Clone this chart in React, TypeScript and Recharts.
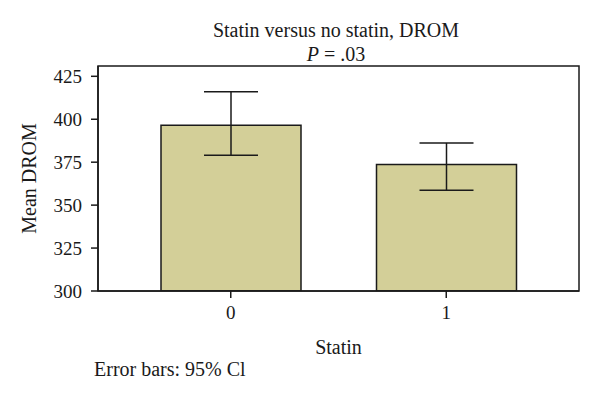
import { BarChart, Bar, XAxis, YAxis, ErrorBar } from 'recharts';

// groups and values
const statin = ['0', '1'];
const meanDrom = [396.5, 373.7];
const ciLow = [379, 358.7];
const ciHigh = [416, 386.2];
const yTicks = [300, 325, 350, 375, 400, 425];

const FONT = '"Liberation Serif", "DejaVu Serif", serif';
const INK = '#1a1a1a';

const data = statin.map((s, i) => ({
  statin: s,
  mean: meanDrom[i],
  ci: [meanDrom[i] - ciLow[i], ciHigh[i] - meanDrom[i]],
}));

export default function App() {
  return (
    <div style={{ position: 'absolute', left: 0, top: 0, width: 600, height: 398, background: '#fff', fontFamily: FONT, color: INK }}>
      <div style={{ position: 'absolute', left: 0, width: 672, top: 18, textAlign: 'center', fontSize: 20, lineHeight: '24px' }}>
        Statin versus no statin, DROM
      </div>
      <div style={{ position: 'absolute', left: 0, width: 672, top: 42, textAlign: 'center', fontSize: 20, lineHeight: '24px' }}>
        <i>P</i> = .03
      </div>
      <BarChart width={600} height={398} data={data} margin={{ top: 66, right: 21, bottom: 77, left: 0 }}>
        <XAxis
          dataKey="statin"
          padding={{ left: 25, right: 25 }}
          height={30}
          tickSize={7}
          tickMargin={8}
          stroke={INK}
          strokeWidth={1.5}
          tick={{ fill: INK, fontSize: 19, fontFamily: FONT }}
          label={{ value: 'Statin', position: 'insideBottom', offset: -33, fill: INK, fontSize: 20, fontFamily: FONT }}
        />
        <YAxis
          domain={[300, 431]}
          ticks={yTicks}
          allowDataOverflow
          width={98}
          tickSize={7}
          tickMargin={9}
          stroke={INK}
          strokeWidth={1.5}
          tick={{ fill: INK, fontSize: 19, fontFamily: FONT }}
          label={{ value: 'Mean DROM', angle: -90, position: 'insideLeft', offset: 29, fill: INK, fontSize: 20, fontFamily: FONT, style: { textAnchor: 'middle' } }}
        />
        <Bar dataKey="mean" barSize={140} fill="#d3cf98" stroke={INK} strokeWidth={1.5} isAnimationActive={false}>
          <ErrorBar dataKey="ci" width={27} stroke={INK} strokeWidth={1.5} direction="y" isAnimationActive={false} />
        </Bar>
      </BarChart>
      {/* closed frame around the plot area */}
      <svg width={600} height={398} style={{ position: 'absolute', left: 0, top: 0, pointerEvents: 'none' }}>
        <rect x={98} y={66} width={481} height={225} fill="none" stroke={INK} strokeWidth={1.5} />
      </svg>
      <div style={{ position: 'absolute', left: 94, top: 357, fontSize: 20, lineHeight: '24px' }}>
        Error bars: 95% Cl
      </div>
    </div>
  );
}
